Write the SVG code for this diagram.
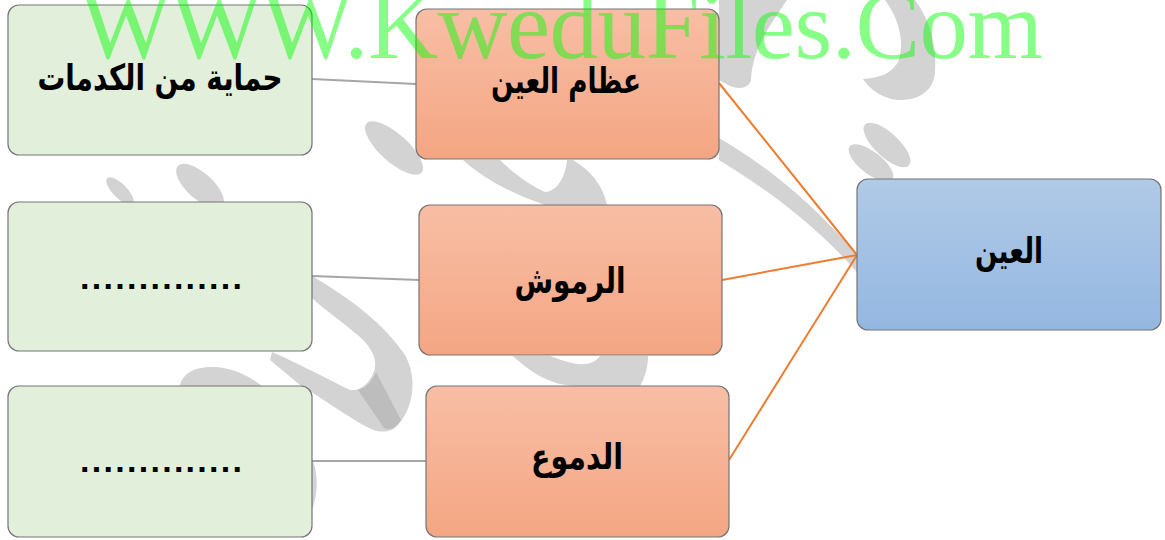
<svg xmlns="http://www.w3.org/2000/svg" width="1165" height="540" viewBox="0 0 1165 540">
<style>
.wm{fill:#d3d3d3}
.wmd{fill:#bdbdbd}
.box{stroke:#757575;stroke-width:1.2}
.green{fill:#e2efda}
.orange{fill:url(#gO)}
.blue{fill:url(#gB)}
.lbl{font-family:"DejaVu Sans",sans-serif;font-weight:bold;font-size:36px;fill:#000;text-anchor:middle}
.dots{font-family:"Liberation Sans",Arial,sans-serif;font-weight:bold;font-size:34px;fill:#000;text-anchor:middle}
.gl{stroke:#a6a6a6;stroke-width:2;fill:none}
.ol{stroke:#ed7d31;stroke-width:2;fill:none}
.site{font-family:"Liberation Serif","Times New Roman",serif;font-size:97px;fill:#00ff00;fill-opacity:0.47}
</style>
<defs>
<linearGradient id="gO" x1="0" y1="0" x2="0" y2="1">
<stop offset="0" stop-color="#f8bea5"/>
<stop offset="1" stop-color="#f4a683"/>
</linearGradient>
<linearGradient id="gB" x1="0" y1="0" x2="0" y2="1">
<stop offset="0" stop-color="#b0cae7"/>
<stop offset="1" stop-color="#94b7e1"/>
</linearGradient>
</defs>
<rect width="1165" height="540" fill="#fff"/>
<g id="watermark-shapes">
<ellipse class="wm" cx="120" cy="191" rx="18" ry="7" transform="rotate(45 120 191)"/>
<ellipse class="wm" cx="200" cy="186" rx="30" ry="13" transform="rotate(42 200 186)"/>
<ellipse class="wm" cx="394" cy="148" rx="37" ry="14" transform="rotate(42 394 148)"/>
<ellipse class="wm" cx="887" cy="145" rx="30" ry="12" transform="rotate(43 887 145)"/>
<ellipse class="wm" cx="871" cy="163" rx="27" ry="11" transform="rotate(38 871 163)"/>
<path class="wm" d="M312,276 C350,298 385,325 405,355 C418,378 414,410 395,428 C385,434 375,432 365,426 C345,415 325,400 300,385 L270,360 L272,352 C295,362 330,380 350,390 C362,392 372,380 375,368 C377,355 368,343 355,333 C340,320 325,310 312,298 Z"/>
<path class="wmd" d="M358,390 C366,388 372,382 376,372 L401,420 C396,428 390,431 384,428 Z"/>
<path class="wm" d="M180,386 C182,372 198,366 215,367 C235,368 252,378 262,386 Z"/>
<path class="wm" d="M310,455 C319,470 319,495 310,515 Z"/>
<path class="wm" d="M463,160 L500,160 C515,175 530,185 545,192 C555,192 565,180 567,160 L573,160 C590,170 603,185 607,205 L545,205 C515,195 485,180 463,160 Z"/>
<path class="wm" d="M513,356 C530,372 550,385 575,386 L640,386 C646,376 648,365 648,356 L600,356 C596,362 588,365 578,364 C565,362 556,358 550,356 Z"/>
<path class="wm" d="M719,138 C765,165 810,200 857,255 L857,272 C812,222 765,188 719,160 Z"/>
<path class="wm" d="M719,0 L787,0 C770,25 752,50 751,80 C749,88 740,90 730,86 L719,80 Z"/>
<path class="wm" d="M885,0 L915,0 C930,20 937,45 935,72 C934,90 920,100 900,100 C885,100 870,90 863,79 C875,78 890,76 898,62 C905,45 900,20 885,0 Z"/>
</g>
<g id="connectors">
<line class="gl" x1="312" y1="79" x2="416" y2="84"/>
<line class="gl" x1="312" y1="276" x2="419" y2="280"/>
<line class="gl" x1="312" y1="461" x2="426" y2="461"/>
<line class="ol" x1="719" y1="83" x2="857" y2="255"/>
<line class="ol" x1="722" y1="280" x2="857" y2="255"/>
<line class="ol" x1="729" y1="460" x2="857" y2="255"/>
</g>
<g id="node-protect">
<rect class="box green" x="8" y="5" width="304" height="150" rx="11"/>
<text class="lbl" x="160" y="90" textLength="245" lengthAdjust="spacingAndGlyphs">حماية من الكدمات</text>
</g>
<g id="node-blank1">
<rect class="box green" x="8" y="202" width="304" height="149" rx="11"/>
<text class="dots" x="161" y="289" textLength="162" lengthAdjust="spacing">..............</text>
</g>
<g id="node-blank2">
<rect class="box green" x="8" y="386" width="304" height="151" rx="11"/>
<text class="dots" x="161" y="472" textLength="162" lengthAdjust="spacing">..............</text>
</g>
<g id="node-bones">
<rect class="box orange" x="416" y="9" width="303" height="150" rx="11"/>
<text class="lbl" x="566" y="93" textLength="150" lengthAdjust="spacingAndGlyphs">عظام العين</text>
</g>
<g id="node-lashes">
<rect class="box orange" x="419" y="205" width="303" height="150" rx="11"/>
<text class="lbl" x="570" y="293" textLength="111" lengthAdjust="spacingAndGlyphs">الرموش</text>
</g>
<g id="node-tears">
<rect class="box orange" x="426" y="386" width="303" height="151" rx="11"/>
<text class="lbl" x="577" y="469" textLength="92" lengthAdjust="spacingAndGlyphs">الدموع</text>
</g>
<g id="node-eye">
<rect class="box blue" x="857" y="179" width="304" height="151" rx="11"/>
<text class="lbl" x="1009" y="263" textLength="68" lengthAdjust="spacingAndGlyphs">العين</text>
</g>
<text class="site" x="80" y="58" textLength="963" lengthAdjust="spacing">WWW.KweduFiles.Com</text>
</svg>
